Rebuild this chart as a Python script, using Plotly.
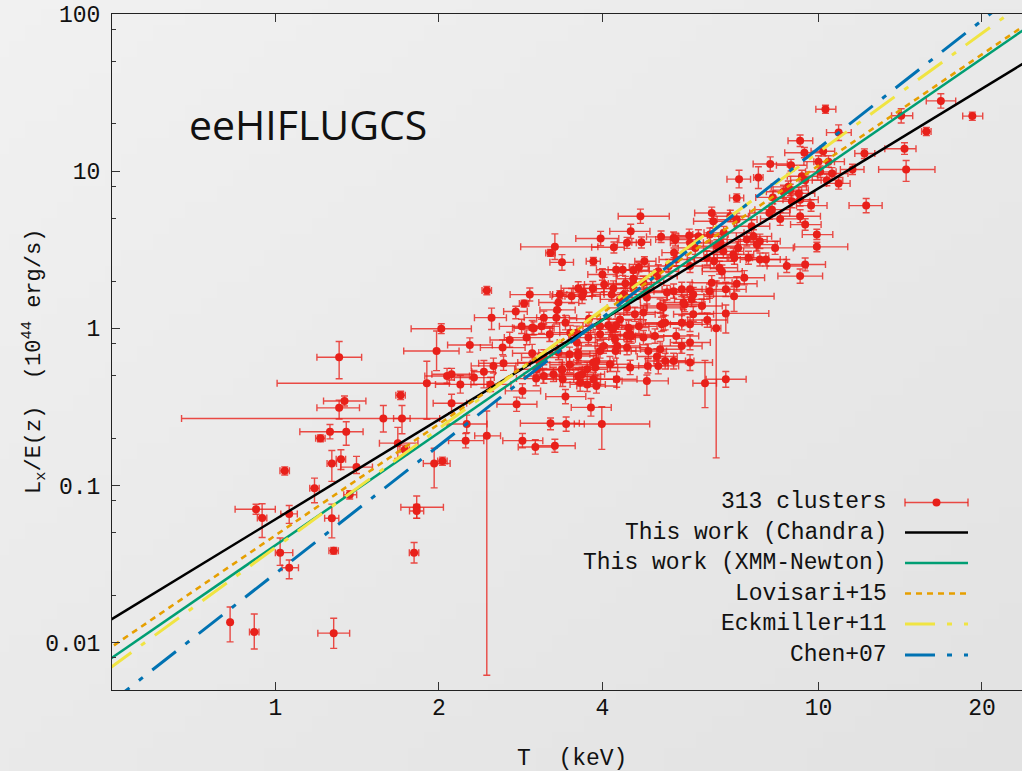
import base64
import struct
import zlib

import numpy as np
import plotly.graph_objects as go

# ---------------- data: 313-cluster sample ----------------
T_keV = [
    # low-temperature / sparse part
    1.31, 1.90, 1.70, 1.34, 1.31, 1.58, 1.71, 1.26, 1.35, 1.21,
    1.68, 1.73, 1.32, 1.27, 1.41, 1.04, 1.96, 2.03, 1.18, 1.37,
    0.921, 0.945, 1.06, 1.27, 1.82, 1.82, 1.02, 1.06, 1.28, 1.80,
    0.825, 0.914, 1.28,
    # central part
    2.45, 3.27, 3.21, 3.37, 3.97, 3.85, 4.70, 4.51, 4.72, 4.44,
    4.20, 4.78, 4.67, 4.56, 4.36, 4.24, 4.00, 3.84, 3.61, 3.69,
    4.41, 4.56, 3.34, 3.51, 5.13, 5.41, 5.42, 4.19, 4.03, 3.67,
    3.32, 2.87, 2.77, 2.50, 2.02, 2.28, 1.98, 2.11, 2.07, 2.11,
    2.19, 2.32, 2.42, 2.52, 2.63, 2.70, 2.84, 2.99, 3.09, 3.12,
    2.90, 2.97, 3.07, 3.20, 3.29, 3.30, 3.49, 3.61, 3.48, 3.37,
    3.38, 3.67, 3.64, 3.75, 3.85, 3.88, 3.96, 4.10, 3.96, 4.26,
    4.44, 4.44, 4.24, 4.83, 4.85, 4.86, 3.90, 3.99, 3.81, 3.42,
    3.21, 3.43, 2.85, 3.01, 3.27, 2.78, 2.85, 3.02, 2.49, 2.25,
    2.45, 2.24, 2.62, 2.97, 3.42, 3.12, 3.32, 3.48, 3.59, 3.77,
    3.59, 3.78, 3.96, 4.18, 4.31, 4.47, 4.23, 3.90, 3.75, 3.61,
    3.61, 3.37, 3.03, 3.12, 4.16, 4.38, 4.56, 4.76, 4.44, 4.59,
    4.67, 4.50, 4.76, 4.22, 4.02, 4.13, 4.50, 4.25, 3.85, 3.25,
    2.94,
    # hot part
    7.07, 12.24, 10.89, 9.69, 9.25, 9.45, 8.50, 8.93, 9.20, 9.93,
    9.93, 8.12, 7.80, 7.59, 7.38, 7.53, 7.07, 6.88, 6.36, 6.40,
    6.69, 5.78, 6.01, 5.45, 5.80, 5.93, 6.50, 6.68, 6.23, 6.42,
    6.97, 7.00, 7.43, 7.80, 7.30, 7.07, 6.99, 6.75, 6.64, 6.57,
    6.36, 6.30, 6.75, 5.80, 5.88, 5.84, 5.60, 5.67, 6.10, 5.88,
    5.41, 5.26, 5.11, 5.18, 4.83, 5.07, 5.30, 5.47, 5.80, 5.60,
    5.22, 5.47, 5.41, 5.80, 5.80, 5.11, 5.14, 5.00, 9.25, 9.42,
    8.15, 7.75, 7.14, 8.90, 10.0, 10.43, 10.59, 12.15, 14.4, 14.5,
    11.55, 8.62, 8.80, 8.21, 10.3, 10.89, 10.2, 9.32, 9.45, 8.24,
    8.87, 10.07, 16.8, 19.2, 14.2, 15.8, 10.36, 9.25, 6.24, 5.18,
    4.52, 5.04, 4.31, 4.56, 5.04, 5.80, 6.31, 6.60, 7.11, 7.70,
    8.00, 8.74, 9.25, 9.45, 8.32, 4.83, 5.64, 4.76, 5.60, 5.22,
    5.07, 6.75, 6.18, 6.48,
]

Lx_1e44 = [
    0.655, 0.447, 0.375, 0.345, 0.312, 0.267, 0.267, 0.220, 0.220, 0.200,
    0.186, 0.169, 0.147, 0.138, 0.131, 0.124, 0.138, 0.143, 0.096, 0.0874,
    0.0706, 0.0622, 0.066, 0.0619, 0.0727, 0.0689, 0.0374, 0.030, 0.0385, 0.0374,
    0.0135, 0.0117, 0.0115,
    1.74, 3.30, 3.02, 2.63, 3.73, 2.67, 5.17, 4.14, 3.53, 3.51,
    3.28, 2.67, 2.46, 2.34, 2.36, 2.36, 2.20, 1.79, 1.80, 1.69,
    1.93, 2.07, 1.64, 1.60, 3.82, 3.76, 3.03, 1.79, 1.90, 1.60,
    1.46, 1.44, 1.28, 1.17, 0.995, 0.784, 0.718, 0.334, 0.497, 0.51,
    0.44, 0.486, 0.529, 0.577, 0.60, 0.843, 1.03, 1.00, 1.03, 1.17,
    0.873, 0.694, 0.606, 0.916, 1.17, 1.31, 0.939, 0.694, 0.586, 0.543,
    0.474, 0.51, 0.452, 0.44, 0.606, 0.564, 0.718, 1.045, 0.916, 0.772,
    0.754, 0.903, 1.045, 0.463, 0.577, 0.718, 0.43, 0.246, 0.314, 0.368,
    0.249, 0.246, 0.193, 0.176, 0.179, 0.329, 0.40, 0.479, 0.44, 0.246,
    0.207, 0.193, 0.754, 1.01, 1.087, 0.652, 0.701, 0.684, 0.812, 0.873,
    0.939, 1.15, 1.03, 0.985, 1.14, 1.01, 0.718, 0.62, 0.549, 0.497,
    0.667, 0.549, 0.549, 0.497, 1.64, 1.64, 1.90, 1.95, 1.35, 1.23,
    1.03, 0.916, 0.873, 0.851, 0.772, 0.591, 0.564, 0.474, 0.474, 0.51,
    1.64,
    6.76, 6.04, 8.36, 6.04, 5.17, 4.57, 4.97, 6.43, 7.22, 3.95,
    3.30, 5.42, 3.58, 3.85, 3.67, 4.46, 4.92, 5.17, 5.42, 4.80,
    4.05, 3.89, 3.85, 3.67, 3.50, 3.25, 3.33, 3.09, 2.81, 2.67,
    2.95, 2.81, 2.81, 2.74, 2.10, 1.92, 1.60, 1.77, 2.30, 2.43,
    1.95, 1.725, 1.245, 1.77, 1.64, 1.528, 1.77, 1.42, 1.386, 1.23,
    1.725, 1.69, 1.386, 1.35, 1.725, 2.31, 2.49, 2.74, 1.06, 1.087,
    1.087, 0.894, 0.62, 0.812, 0.606, 0.736, 1.06, 0.894, 15.6, 13.1,
    11.1, 9.12, 8.90, 10.9, 11.5, 11.5, 9.67, 12.95, 13.9, 10.25,
    10.25, 7.39, 7.95, 5.69, 24.8, 17.6, 13.4, 9.29, 8.77, 6.81,
    7.58, 9.9, 28.0, 22.4, 22.5, 17.9, 8.77, 6.59, 1.13, 1.076,
    0.894, 0.662, 1.528, 1.81, 2.15, 2.49, 3.95, 3.50, 3.25, 3.41,
    2.74, 2.49, 2.15, 2.55, 3.25, 1.57, 1.46, 1.26, 0.772, 0.62,
    0.577, 0.474, 0.447, 1.00,
]

# fractional (relative) uncertainties, lower / upper
T_rel_lo = [
    .09, .47, .02, .085, .09, .575, .035, .12, .06, .02,
    .075, .02, .02, .02, .065, .02, .045, .02, .02, .025,
    .085, .02, .035, .03, .065, .03, .02, .03, .02, .02,
    .005, .02, .065,
    .02, .135, .02, .05, .10, .03, .09, .085, .04, .04,
    .09, .04, .04, .06, .06, .08, .06, .08, .07, .08,
    .07, .07, .03, .08, .06, .06, .05, .09, .08, .07,
    .08, .02, .05, .07, .12, .09, .13, .075, .09, .08,
    .10, .08, .05, .09, .10, .08, .09, .08, .07, .08,
    .09, .08, .09, .10, .08, .07, .08, .07, .08, .09,
    .08, .09, .08, .07, .08, .09, .08, .07, .08, .09,
    .08, .07, .08, .10, .08, .07, .08, .11, .08, .08,
    .12, .07, .08, .07, .08, .08, .07, .08, .08, .08,
    .05, .07, .09, .08, .08, .09, .08, .08, .08, .08,
    .07, .08, .07, .08, .08, .08, .08, .08, .08, .09,
    .08, .08, .09, .08, .08, .08, .07, .08, .08, .08,
    .07, .08, .08, .08, .09, .08, .08, .08, .08, .08,
    .08,
    .03, .07, .05, .06, .08, .06, .08, .07, .06, .06,
    .09, .08, .08, .07, .08, .07, .08, .07, .07, .08,
    .08, .07, .08, .08, .08, .07, .08, .08, .08, .08,
    .08, .07, .08, .08, .08, .08, .12, .08, .08, .07,
    .08, .08, .17, .08, .08, .07, .08, .08, .08, .08,
    .08, .08, .08, .07, .08, .08, .08, .07, .08, .08,
    .08, .09, .08, .08, .09, .08, .08, .08, .05, .08,
    .07, .02, .05, .06, .06, .06, .06, .04, .08, .11,
    .05, .07, .07, .07, .04, .05, .05, .06, .06, .07,
    .07, .06, .06, .04, .04, .02, .06, .07, .08, .08,
    .08, .08, .08, .08, .08, .08, .07, .07, .07, .08,
    .08, .08, .09, .08, .07, .08, .08, .08, .08, .08,
    .08, .08, .05, .02,
]

T_rel_hi = [
    .10, .10, .02, .095, .09, .27, .035, .066, .074, .02,
    .089, .02, .02, .02, .07, .02, .07, .02, .02, .03,
    .085, .02, .035, .03, .12, .03, .055, .04, .02, .02,
    .005, .02, .07,
    .02, .20, .02, .05, .08, .03, .13, .085, .04, .04,
    .045, .05, .04, .07, .07, .09, .065, .09, .08, .09,
    .08, .08, .03, .09, .07, .07, .05, .10, .09, .08,
    .09, .02, .05, .065, .136, .10, .10, .066, .10, .09,
    .12, .09, .05, .10, .12, .09, .10, .09, .08, .09,
    .10, .09, .10, .11, .09, .08, .09, .08, .09, .10,
    .09, .10, .09, .08, .09, .10, .09, .08, .09, .10,
    .09, .08, .09, .095, .09, .08, .09, .225, .09, .09,
    .13, .08, .09, .08, .09, .09, .08, .09, .09, .09,
    .06, .08, .10, .09, .09, .10, .09, .09, .09, .09,
    .08, .09, .08, .09, .09, .09, .09, .09, .09, .10,
    .09, .09, .10, .09, .09, .09, .08, .09, .09, .09,
    .08, .09, .09, .09, .10, .09, .09, .09, .09, .09,
    .09,
    .03, .07, .05, .07, .09, .07, .09, .08, .07, .07,
    .14, .09, .09, .08, .09, .08, .09, .08, .08, .09,
    .09, .08, .09, .09, .09, .08, .09, .09, .09, .09,
    .09, .08, .09, .09, .09, .09, .185, .09, .09, .08,
    .09, .09, .20, .09, .09, .08, .09, .09, .09, .09,
    .09, .09, .09, .08, .09, .09, .09, .08, .09, .09,
    .09, .10, .09, .09, .10, .09, .09, .09, .055, .09,
    .075, .02, .05, .07, .07, .07, .07, .045, .05, .13,
    .05, .08, .08, .08, .045, .055, .05, .07, .07, .08,
    .08, .07, .065, .045, .05, .02, .07, .08, .09, .09,
    .09, .09, .09, .09, .09, .09, .08, .08, .08, .09,
    .09, .09, .10, .09, .08, .09, .09, .09, .09, .09,
    .09, .09, .05, .02,
]

L_rel_lo = [
    .27, .41, .06, .07, .15, .18, .20, .10, .18, .05,
    .20, .07, .14, .23, .09, .06, .30, .06, .19, .06,
    .07, .25, .13, .25, .15, .10, .17, .15, .05, .14,
    .25, .22, .20,
    .06, .17, .05, .11, .10, .06, .10, .10, .08, .08,
    .08, .07, .07, .08, .08, .09, .08, .10, .09, .10,
    .10, .08, .06, .10, .08, .08, .07, .10, .10, .10,
    .10, .05, .10, .16, .07, .10, .25, .13, .10, .08,
    .12, .10, .21, .10, .10, .10, .10, .09, .10, .09,
    .10, .12, .10, .10, .09, .09, .10, .10, .11, .10,
    .10, .10, .12, .10, .10, .11, .10, .10, .09, .10,
    .10, .09, .09, .19, .10, .10, .10, .31, .12, .10,
    .09, .10, .10, .10, .09, .10, .10, .10, .10, .12,
    .97, .10, .10, .10, .10, .10, .10, .10, .10, .10,
    .09, .09, .09, .10, .09, .10, .10, .10, .10, .10,
    .10, .10, .10, .10, .09, .09, .09, .09, .10, .10,
    .10, .10, .10, .10, .10, .10, .10, .11, .10, .10,
    .09,
    .06, .10, .08, .08, .09, .08, .09, .09, .08, .07,
    .07, .09, .10, .09, .09, .09, .09, .08, .08, .09,
    .09, .09, .09, .09, .09, .09, .09, .09, .10, .10,
    .09, .09, .09, .09, .10, .10, .20, .10, .09, .09,
    .10, .10, .25, .10, .10, .10, .10, .10, .10, .10,
    .10, .10, .10, .10, .10, .09, .09, .09, .10, .10,
    .10, .10, .11, .10, .11, .10, .10, .10, .08, .07,
    .10, .15, .12, .08, .08, .08, .08, .07, .08, .16,
    .07, .09, .08, .09, .06, .11, .07, .08, .08, .09,
    .08, .08, .10, .06, .10, .06, .08, .09, .10, .10,
    .10, .10, .09, .09, .09, .09, .09, .09, .09, .09,
    .09, .09, .10, .09, .09, .09, .10, .10, .10, .11,
    .11, .11, .30, .85,
]

L_rel_hi = [
    .26, .38, .06, .076, .12, .21, .21, .11, .157, .05,
    .26, .07, .15, .21, .17, .06, .25, .06, .16, .06,
    .076, .23, .13, .23, .18, .10, .24, .12, .05, .16,
    .25, .30, .245,
    .06, .21, .05, .12, .11, .06, .11, .11, .08, .08,
    .08, .07, .07, .09, .09, .10, .09, .11, .10, .12,
    .11, .09, .06, .12, .09, .09, .07, .12, .11, .11,
    .12, .05, .08, .15, .076, .11, .34, .14, .12, .09,
    .14, .11, .18, .12, .11, .12, .11, .10, .11, .10,
    .12, .14, .12, .12, .10, .10, .11, .12, .12, .11,
    .12, .11, .13, .12, .11, .12, .11, .11, .10, .11,
    .12, .10, .10, .09, .11, .11, .12, .29, .14, .11,
    .08, .11, .11, .11, .10, .11, .11, .11, .11, .14,
    .44, .11, .12, .11, .11, .12, .11, .11, .11, .11,
    .10, .10, .10, .11, .10, .11, .12, .11, .11, .12,
    .11, .11, .11, .12, .10, .10, .10, .10, .11, .11,
    .11, .11, .11, .11, .11, .12, .11, .12, .11, .11,
    .10,
    .06, .11, .09, .09, .10, .09, .10, .10, .09, .08,
    .07, .10, .11, .10, .10, .10, .10, .09, .09, .10,
    .10, .10, .10, .10, .10, .10, .10, .10, .11, .11,
    .10, .10, .10, .10, .11, .11, .15, .11, .10, .10,
    .11, .11, .13, .11, .11, .11, .11, .11, .11, .12,
    .11, .11, .11, .11, .11, .10, .10, .10, .11, .11,
    .11, .12, .12, .12, .12, .12, .11, .11, .09, .08,
    .11, .17, .14, .09, .09, .09, .09, .07, .09, .14,
    .08, .10, .09, .10, .06, .12, .08, .09, .09, .10,
    .09, .09, .11, .06, .11, .06, .09, .10, .11, .11,
    .11, .12, .10, .10, .10, .10, .10, .10, .10, .10,
    .10, .10, .11, .10, .10, .10, .11, .11, .12, .12,
    .12, .12, .40, 1.00,
]

# ---------------- scaling relations: L = A * (T / 4 keV)^B ----------------
fit_names = ["This work (Chandra)", "This work (XMM-Newton)", "Lovisari+15",
             "Eckmiller+11", "Chen+07"]
fit_norm = [1.13, 1.13, 1.256, 1.317, 1.171]
fit_slope = [2.106, 2.380, 2.352, 2.515, 2.705]
T_pivot = 4.0

x_ticks = [1, 2, 4, 10, 20]
y_ticks = [0.01, 0.1, 1, 10, 100]
y_tick_text = ["0.01", "0.1", "1", "10", "100"]
y_minor = [m * 10.0 ** e for e in range(-3, 2) for m in (2, 5, 8)]

# ---------------- styling ----------------
n = len(T_keV)
assert all(len(a) == n for a in (Lx_1e44, T_rel_lo, T_rel_hi, L_rel_lo, L_rel_hi))

RED = "#e8201a"
ERR = "rgba(232,32,26,0.80)"
fit_colors = ["#000000", "#009e73", "#e69f00", "#f0e442", "#0072b2"]
fit_dash = ["solid", "solid", "6px,5px", "30px,12px,5px,12px", "30px,12px,5px,12px"]
fit_width = [2.5, 2.5, 2.6, 3.0, 3.0]
MONO = "Liberation Mono"
FS = 23

W, H = 1022, 771
ML, MR, MT, MB = 112, 0, 14, 81
PW, PH = W - ML - MR, H - MT - MB


def px(x):
    return (x - ML) / PW


def py(y):
    return (H - MB - y) / PH


T = np.array(T_keV)
L = np.array(Lx_1e44)

fig = go.Figure()
fig.add_trace(go.Scatter(
    x=T, y=L, mode="markers",
    marker=dict(color=RED, size=8, line=dict(width=0)),
    error_x=dict(type="data", symmetric=False, array=T * np.array(T_rel_hi),
                 arrayminus=T * np.array(T_rel_lo), color=ERR, thickness=1.4, width=3.5),
    error_y=dict(type="data", symmetric=False, array=L * np.array(L_rel_hi),
                 arrayminus=L * np.array(L_rel_lo), color=ERR, thickness=1.4, width=3.5),
    name="313 clusters", showlegend=False, hoverinfo="skip",
))

T_line = np.geomspace(0.4, 30, 60)
for name, A, B, c, d, w in zip(fit_names, fit_norm, fit_slope, fit_colors, fit_dash, fit_width):
    fig.add_trace(go.Scatter(
        x=T_line, y=A * (T_line / T_pivot) ** B, mode="lines",
        line=dict(color=c, width=w, dash=d), name=name, showlegend=False,
        hoverinfo="skip",
    ))

# ---------------- background gradient (tiny generated PNG) ----------------
def gradient_png(w, h, c0, c1):
    rows = []
    for j in range(h):
        row = bytearray([0])
        for i in range(w):
            t = 0.5 * (i / (w - 1)) + 0.5 * (j / (h - 1))
            v = int(round(c0 + (c1 - c0) * t))
            row += bytes([v, v, v])
        rows.append(bytes(row))
    raw = b"".join(rows)

    def chunk(tag, data):
        return (struct.pack(">I", len(data)) + tag + data +
                struct.pack(">I", zlib.crc32(tag + data) & 0xFFFFFFFF))

    png = (b"\x89PNG\r\n\x1a\n" +
           chunk(b"IHDR", struct.pack(">IIBBBBB", w, h, 8, 2, 0, 0, 0)) +
           chunk(b"IDAT", zlib.compress(raw)) + chunk(b"IEND", b""))
    return "data:image/png;base64," + base64.b64encode(png).decode()


bg_src = gradient_png(64, 48, 241, 226)

# ---------------- custom legend (text left, sample right) ----------------
legend_labels = ["313 clusters"] + fit_names
legend_rows = [502.5, 532.5, 563, 593.5, 624, 655]
sx0, sx1, text_right = 905, 968, 889

shapes = []
annotations = []
for lab, ry in zip(legend_labels, legend_rows):
    annotations.append(dict(
        x=px(text_right), y=py(ry), xref="paper", yref="paper", text=lab,
        showarrow=False, xanchor="right", yanchor="middle",
        font=dict(family=MONO, size=FS, color="#111111"),
    ))

# error-bar sample
ry = legend_rows[0]
shapes.append(dict(type="line", xref="paper", yref="paper", x0=px(sx0), x1=px(sx1),
                   y0=py(ry), y1=py(ry), line=dict(color=ERR, width=1.4)))
for cx in (sx0, sx1):
    shapes.append(dict(type="line", xref="paper", yref="paper", x0=px(cx), x1=px(cx),
                       y0=py(ry - 4), y1=py(ry + 4), line=dict(color=ERR, width=1.4)))
mx = 0.5 * (sx0 + sx1)
shapes.append(dict(type="circle", xref="paper", yref="paper", x0=px(mx - 4), x1=px(mx + 4),
                   y0=py(ry - 4), y1=py(ry + 4), fillcolor=RED, line=dict(width=0)))
for ry, c, d, w in zip(legend_rows[1:], fit_colors, fit_dash, fit_width):
    shapes.append(dict(type="line", xref="paper", yref="paper", x0=px(sx0), x1=px(sx1),
                       y0=py(ry), y1=py(ry), line=dict(color=c, width=w, dash=d)))

# titles / labels
annotations.append(dict(
    x=px(308), y=py(124), xref="paper", yref="paper", text="eeHIFLUGCS",
    showarrow=False, xanchor="center", yanchor="middle",
    font=dict(family="Open Sans", size=41, color="#111111"),
))
annotations.append(dict(
    x=px(34), y=py(362), xref="paper", yref="paper",
    text="L<sub>x</sub>/E(z)\u00a0\u00a0(10<sup>44</sup>\u00a0erg/s)",
    showarrow=False, textangle=-90, xanchor="center", yanchor="middle",
    font=dict(family=MONO, size=22, color="#111111"),
))
annotations.append(dict(
    x=px(572), y=py(759), xref="paper", yref="paper", text="T\u00a0\u00a0(keV)",
    showarrow=False, xanchor="center", yanchor="middle",
    font=dict(family=MONO, size=FS, color="#111111"),
))

fig.update_layout(
    width=W, height=H,
    margin=dict(l=ML, r=MR, t=MT, b=MB, pad=0),
    paper_bgcolor="#ebebeb",
    plot_bgcolor="rgba(0,0,0,0)",
    showlegend=False,
    images=[dict(source=bg_src, xref="paper", yref="paper",
                 x=-ML / PW, y=1 + MT / PH, sizex=W / PW, sizey=H / PH,
                 xanchor="left", yanchor="top", sizing="stretch", layer="below")],
    shapes=shapes,
    annotations=annotations,
    xaxis=dict(
        type="log", range=[np.log10(0.5), np.log10(23.7)],
        tickvals=x_ticks, ticktext=[str(v) for v in x_ticks],
        ticks="inside", ticklen=8, tickwidth=1, tickcolor="#333333",
        showline=True, linecolor="#222222", linewidth=1, mirror="ticks",
        showgrid=False, zeroline=False,
        tickfont=dict(family=MONO, size=FS, color="#111111"),
        ticklabelstandoff=-4,
    ),
    yaxis=dict(
        type="log", range=[np.log10(0.005), 2],
        tickvals=y_ticks, ticktext=y_tick_text,
        ticks="inside", ticklen=8, tickwidth=1, tickcolor="#333333",
        minor=dict(tickvals=y_minor, ticks="inside", ticklen=4, tickcolor="#333333",
                   showgrid=False),
        showline=True, linecolor="#222222", linewidth=1, mirror=False,
        showgrid=False, zeroline=False,
        tickfont=dict(family=MONO, size=FS, color="#111111"),
        ticklabelstandoff=6,
    ),
)

fig.write_html("out.html")
